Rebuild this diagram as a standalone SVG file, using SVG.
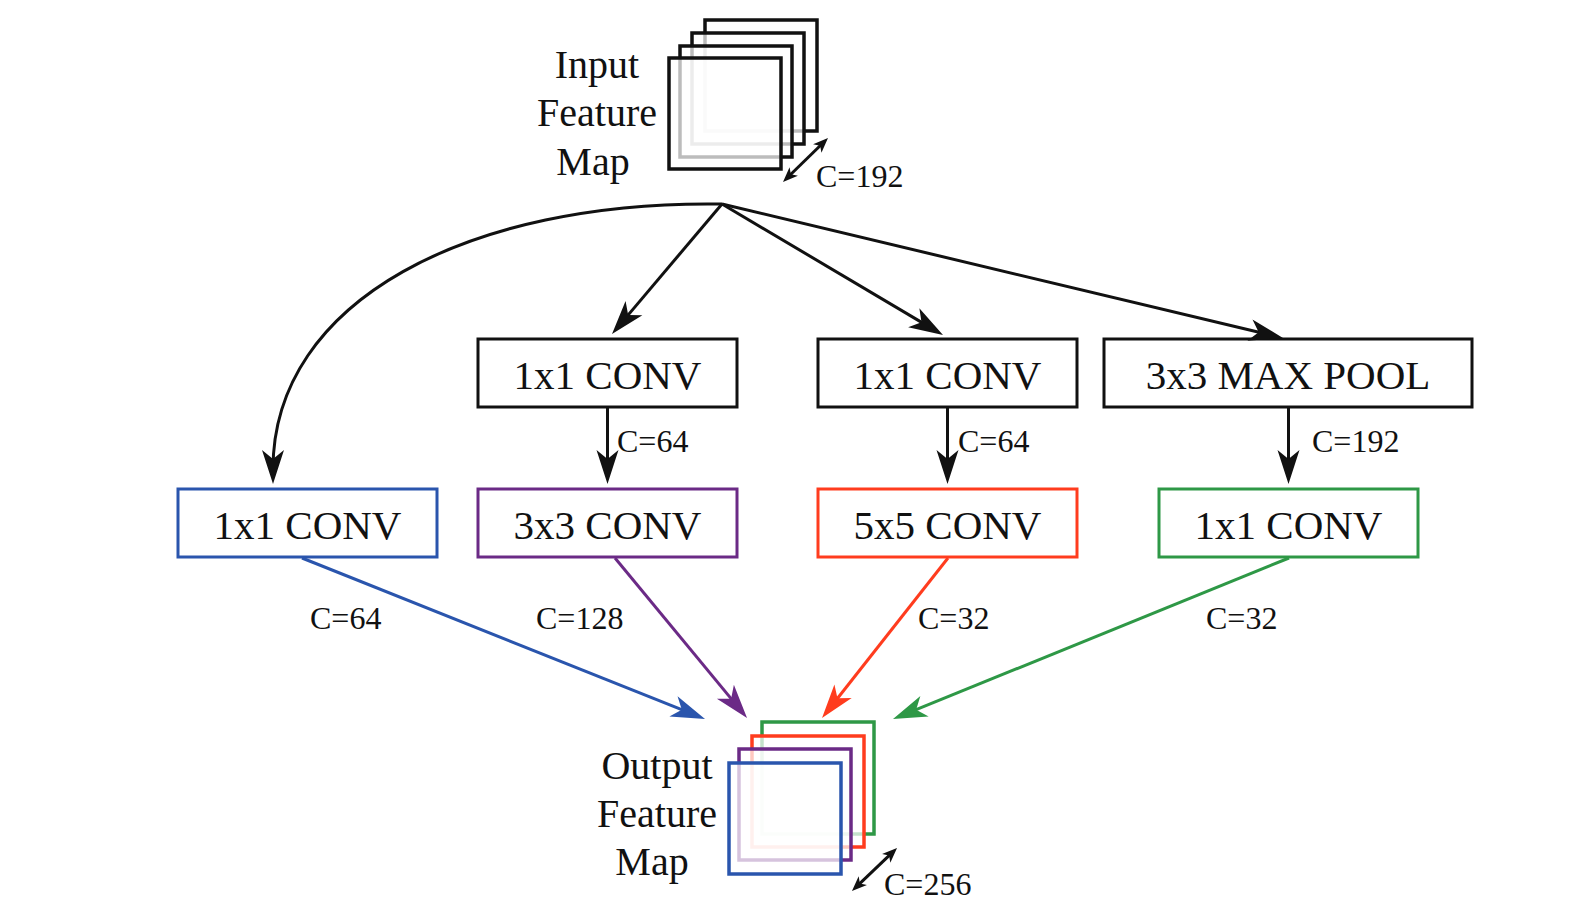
<svg xmlns="http://www.w3.org/2000/svg" width="1570" height="913" viewBox="0 0 1570 913">
<style>
text{font-family:"Liberation Serif","Times New Roman",serif;fill:#111}
.lbl{font-size:41px;text-anchor:middle}
.big{font-size:40px;text-anchor:middle}
.c{font-size:32px}
.box{fill:#fff;stroke-width:3}
.map{fill:#fff;fill-opacity:0.72;stroke-width:3.5}
.ln{fill:none;stroke-width:3}
</style>
<defs>
<marker id="ak" markerUnits="userSpaceOnUse" markerWidth="40" markerHeight="30" viewBox="-36 -15 40 30" refX="-15" refY="0" orient="auto"><path d="M0,0 L-34,-11 L-25,0 L-34,11 Z" fill="#111"/></marker>
<marker id="ab" markerUnits="userSpaceOnUse" markerWidth="40" markerHeight="30" viewBox="-36 -15 40 30" refX="-15" refY="0" orient="auto"><path d="M0,0 L-34,-11 L-25,0 L-34,11 Z" fill="#2a55ad"/></marker>
<marker id="ap" markerUnits="userSpaceOnUse" markerWidth="40" markerHeight="30" viewBox="-36 -15 40 30" refX="-15" refY="0" orient="auto"><path d="M0,0 L-34,-11 L-25,0 L-34,11 Z" fill="#6b2a86"/></marker>
<marker id="ar" markerUnits="userSpaceOnUse" markerWidth="40" markerHeight="30" viewBox="-36 -15 40 30" refX="-15" refY="0" orient="auto"><path d="M0,0 L-34,-11 L-25,0 L-34,11 Z" fill="#ff3c1e"/></marker>
<marker id="ag" markerUnits="userSpaceOnUse" markerWidth="40" markerHeight="30" viewBox="-36 -15 40 30" refX="-15" refY="0" orient="auto"><path d="M0,0 L-34,-11 L-25,0 L-34,11 Z" fill="#2e9846"/></marker>
<marker id="as" markerUnits="userSpaceOnUse" markerWidth="20" markerHeight="14" viewBox="-16 -7 20 14" refX="-6" refY="0" orient="auto-start-reverse"><path d="M0,0 L-15,-6 L-11,0 L-15,6 Z" fill="#111"/></marker>
</defs>

<g id="input-map">
<rect class="map" x="705" y="20" width="112" height="111" stroke="#111"/>
<rect class="map" x="692" y="33" width="112" height="111" stroke="#111"/>
<rect class="map" x="680" y="46" width="112" height="111" stroke="#111"/>
<rect class="map" x="669" y="58" width="112" height="111" stroke="#111"/>
<text class="big" x="597" y="78">Input</text>
<text class="big" x="597" y="126">Feature</text>
<text class="big" x="593" y="175">Map</text>
<path class="ln" d="M787.3,177.8 L823.7,142.2" stroke="#111" stroke-width="2.5" marker-start="url(#as)" marker-end="url(#as)"/>
<text class="c" x="816" y="187">C=192</text>
</g>

<g id="conv1x1-a">
<rect class="box" x="478" y="339" width="259" height="68" stroke="#111"/>
<text class="lbl" x="607.5" y="389">1x1 CONV</text>
</g>
<g id="conv1x1-b">
<rect class="box" x="818" y="339" width="259" height="68" stroke="#111"/>
<text class="lbl" x="947.5" y="389">1x1 CONV</text>
</g>
<g id="maxpool">
<rect class="box" x="1104" y="339" width="368" height="68" stroke="#111"/>
<text class="lbl" x="1288" y="389">3x3 MAX POOL</text>
</g>

<g id="conv1x1-blue">
<rect class="box" x="178" y="489" width="259" height="68" stroke="#2a55ad"/>
<text class="lbl" x="307.5" y="539">1x1 CONV</text>
</g>
<g id="conv3x3">
<rect class="box" x="478" y="489" width="259" height="68" stroke="#6b2a86"/>
<text class="lbl" x="607.5" y="539">3x3 CONV</text>
</g>
<g id="conv5x5">
<rect class="box" x="818" y="489" width="259" height="68" stroke="#ff3c1e"/>
<text class="lbl" x="947.5" y="539">5x5 CONV</text>
</g>
<g id="conv1x1-green">
<rect class="box" x="1159" y="489" width="259" height="68" stroke="#2e9846"/>
<text class="lbl" x="1288.5" y="539">1x1 CONV</text>
</g>

<g id="connectors">
<path class="ln" stroke="#111" d="M722,204 C470,200 273,300 273,469" marker-end="url(#ak)"/>
<path class="ln" stroke="#111" d="M722,204 L621.7,322.6" marker-end="url(#ak)"/>
<path class="ln" stroke="#111" d="M722,204 L930.1,327.4" marker-end="url(#ak)"/>
<path class="ln" stroke="#111" d="M722,204 L1268.4,334.5" marker-end="url(#ak)"/>
<path class="ln" stroke="#111" d="M607.5,407 L607.5,469" marker-end="url(#ak)"/>
<path class="ln" stroke="#111" d="M947.5,407 L947.5,469" marker-end="url(#ak)"/>
<path class="ln" stroke="#111" d="M1288.5,407 L1288.5,469" marker-end="url(#ak)"/>
<path class="ln" stroke="#2a55ad" d="M302,558 L691.1,713.4" marker-end="url(#ab)"/>
<path class="ln" stroke="#6b2a86" d="M615,558 L737.5,706.4" marker-end="url(#ap)"/>
<path class="ln" stroke="#ff3c1e" d="M948,558 L831.3,706.2" marker-end="url(#ar)"/>
<path class="ln" stroke="#2e9846" d="M1289,558 L906.9,713.4" marker-end="url(#ag)"/>
<text class="c" x="617" y="452">C=64</text>
<text class="c" x="958" y="452">C=64</text>
<text class="c" x="1312" y="452">C=192</text>
<text class="c" x="310" y="629">C=64</text>
<text class="c" x="536" y="629">C=128</text>
<text class="c" x="918" y="629">C=32</text>
<text class="c" x="1206" y="629">C=32</text>
</g>

<g id="output-map">
<rect class="map" x="762" y="722" width="112" height="112" stroke="#2e9846"/>
<rect class="map" x="752" y="736" width="112" height="111" stroke="#ff3c1e"/>
<rect class="map" x="739" y="749" width="112" height="111" stroke="#6b2a86"/>
<rect class="map" x="729" y="763" width="112" height="111" stroke="#2a55ad"/>
<text class="big" x="657" y="779">Output</text>
<text class="big" x="657" y="827">Feature</text>
<text class="big" x="652" y="875">Map</text>
<path class="ln" d="M856.3,886.9 L892.7,852.1" stroke="#111" stroke-width="2.5" marker-start="url(#as)" marker-end="url(#as)"/>
<text class="c" x="884" y="895">C=256</text>
</g>
</svg>
